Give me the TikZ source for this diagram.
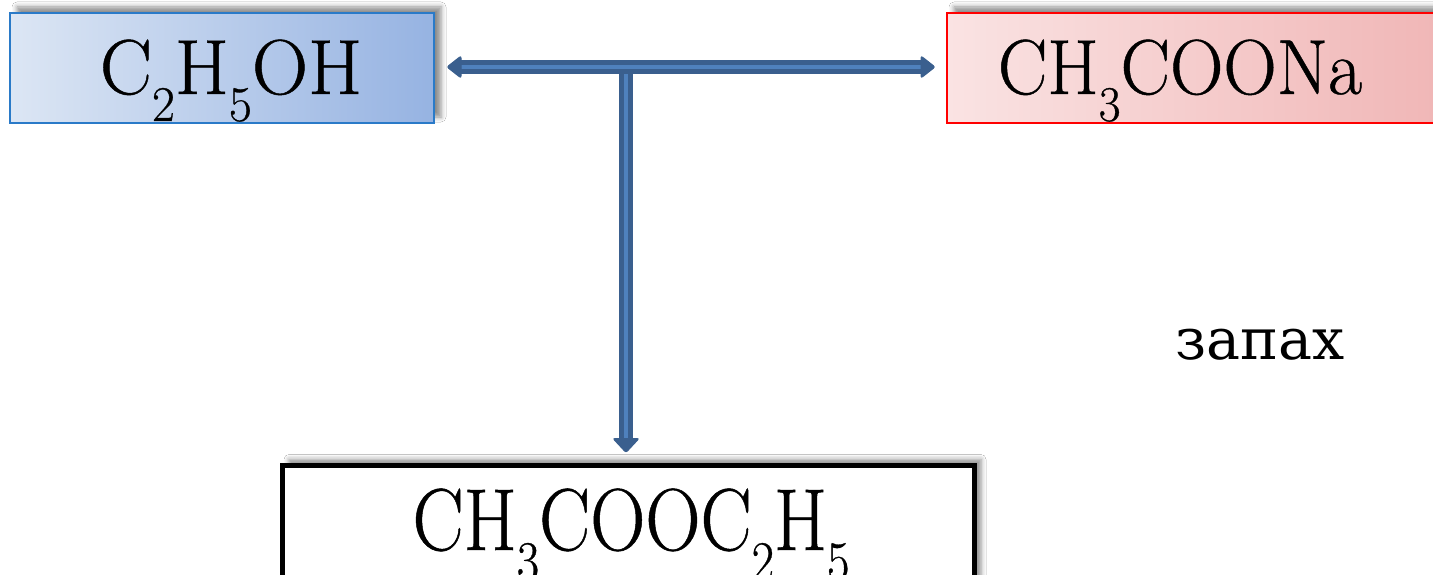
\documentclass[tikz,border=0pt]{standalone}
\usepackage{fontspec}
\newfontfamily\chem{Latin Modern Roman}[FakeBold=0.6]
\newfontfamily\tnr{DejaVu Serif}
\usetikzlibrary{calc,shadows.blur}
\definecolor{arrdark}{HTML}{3A5F8E}
\definecolor{arrlight}{HTML}{4F81BD}
\definecolor{blueL}{HTML}{DCE6F4}
\definecolor{blueR}{HTML}{96B3E2}
\definecolor{blueB}{HTML}{2A7AC8}
\definecolor{pinkL}{HTML}{FAE3E3}
\definecolor{pinkR}{HTML}{EFB1B1}
\newcommand\csub[1]{\raisebox{-27pt}{\chem\fontsize{50}{50}\selectfont #1}}
\newcommand\csubB[1]{\raisebox{-30pt}{\chem\fontsize{56}{56}\selectfont #1}}
\begin{document}
\begin{tikzpicture}[x=1pt,y=-1pt,
  box/.style={rectangle, inner sep=0pt, outer sep=0pt,
    blur shadow={shadow xshift=7pt, shadow yshift=6pt, shadow blur radius=5pt, shadow opacity=45}},
  lbl/.style={anchor=base, inner sep=0pt, text=black},
  shaftout/.style={draw=arrdark, line width=14pt},
  shaftin/.style={draw=arrlight, line width=4pt},
  headfill/.style={fill=arrdark, draw=arrdark, line width=1pt, rounded corners=2pt}]
\useasboundingbox (0,0) rectangle (1433,575);
\clip (0,0) rectangle (1433,575);
\fill[white] (0,0) rectangle (1433,575);
% boxes
\node[box, minimum width=424pt, minimum height=110pt, left color=blueL, right color=blueR, draw=blueB, line width=2pt] (alc) at (222,68) {};
\node[box, minimum width=553pt, minimum height=110pt, left color=pinkL, right color=pinkR, draw=red, line width=2pt] (salt) at (1223.5,68) {};
\node[box, minimum width=692pt, minimum height=175pt, fill=white, draw=black, line width=5pt] (ester) at (628,553) {};
% texts
\node[lbl] (talc) at (231,94) {\chem\fontsize{78}{78}\selectfont C\csub{2}H\csub{5}OH};
\node[lbl] (tsalt) at (1180,94) {\chem\fontsize{78}{78}\selectfont\scalebox{0.95}[1]{CH\csub{3}COONa}};
\node[lbl] (tester) at (631,550) {\chem\fontsize{88}{88}\selectfont\scalebox{0.87}[1]{CH\csubB{3}COOC\csubB{2}H\csubB{5}}};
\node[lbl] (smell) at (1260,359) {\tnr\fontsize{57}{57}\selectfont запах};
% connectors
\coordinate (L) at ($(alc.east)+(13,-1)$);
\coordinate (R) at ($(salt.west)+(-12,-1)$);
\coordinate (J) at ($(L)!0.366!(R)$);
\coordinate (D) at ($(ester.north)+(-2,-13)$);
\coordinate (Jv) at (J -| D);
% vertical shaft
\draw[shaftout] ($(Jv)+(0,6)$) -- ($(D)+(0,-13)$);
\draw[shaftin] ($(Jv)+(0,7)$) -- ($(D)+(0,-10)$);
\path[headfill] (D) -- ++(-13,-14) -- ++(26,0) -- cycle;
% horizontal shaft
\draw[shaftout] ($(L)+(12,0)$) -- ($(R)+(-12,0)$);
\draw[shaftin] ($(L)+(12,0)$) -- ($(R)+(-10,0)$);
\path[headfill] (L) -- ++(14,-11) -- ++(0,22) -- cycle;
\path[headfill] (R) -- ++(-14,-11) -- ++(0,22) -- cycle;
\end{tikzpicture}
\end{document}
